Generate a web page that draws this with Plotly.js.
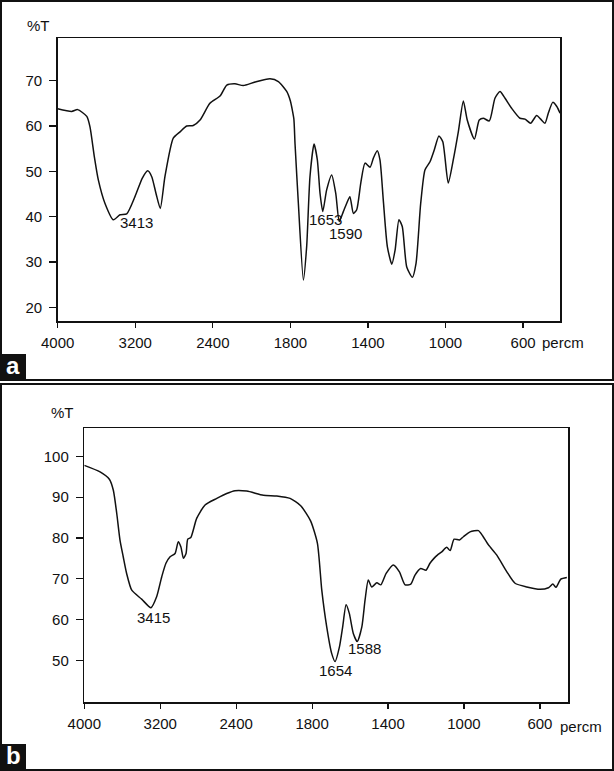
<!DOCTYPE html>
<html>
<head>
<meta charset="utf-8">
<script src="https://cdn.plot.ly/plotly-3.0.1.min.js"></script>
<style>
  html, body { margin: 0; padding: 0; background: #fff; }
  #chart { width: 614px; height: 771px; }
</style>
</head>
<body>
<div id="chart"></div>
<script>
// 스펙트럼 a: 파수(cm-1)와 투과율(%T)
const waveA = [4000, 3856, 3794, 3700, 3667, 3622, 3581, 3512, 3426, 3357, 3288, 3203, 3127, 3072, 3030, 2986, 2942, 2894,
  2808, 2738, 2670, 2602, 2532, 2430, 2326, 2256, 2172, 2086, 1982, 1905, 1862, 1819, 1800, 1790, 1782, 1776, 1759, 1733,
  1716, 1699, 1678, 1661, 1647, 1633, 1613, 1587, 1566, 1548, 1527, 1510, 1493, 1475, 1458, 1437, 1415, 1389, 1372, 1352,
  1338, 1321, 1300, 1277, 1260, 1240, 1223, 1200, 1171, 1152, 1128, 1106, 1080, 1058, 1034, 1014, 986, 960, 934, 908, 888,
  851, 826, 805, 774, 745, 719, 693, 659, 616, 590, 561, 530, 509, 487, 470, 447, 426, 409];
const transA = [63.8, 63.2, 63.6, 62.1, 59.8, 53.2, 48.1, 42.9, 39.3, 40.4, 40.6, 44.4, 48.5, 50.1, 48.8, 45.1, 41.8, 48.8,
  57.3, 58.7, 60.0, 60.1, 61.3, 65.0, 66.6, 69.0, 69.3, 68.9, 69.7, 70.4, 69.8, 67.6, 65.5, 63.5, 61.5, 56.0, 43.0, 26.0,
  33.4, 48.8, 56.0, 52.5, 45.1, 41.1, 45.9, 49.2, 45.1, 38.9, 41.1, 42.9, 44.4, 40.7, 41.5, 47.4, 51.8, 50.9, 52.9, 54.5,
  52.5, 43.7, 33.4, 29.5, 32.6, 39.3, 37.8, 28.9, 26.6, 29.7, 42.9, 50.3, 52.1, 54.7, 57.8, 56.5, 47.4, 52.5, 58.7, 65.5, 61.3,
  57.1, 61.3, 61.7, 61.1, 66.1, 67.6, 66.1, 63.9, 61.7, 61.5, 60.6, 62.3, 61.5, 60.6, 62.8, 65.2, 64.3, 62.8];

// 스펙트럼 b
const waveB = [4000, 3834, 3736, 3694, 3658, 3624, 3590, 3554, 3500, 3396, 3298, 3238, 3184, 3140, 3096, 3044, 3010, 2982,
  2956, 2928, 2910, 2878, 2816, 2728, 2604, 2500, 2412, 2288, 2114, 1986, 1916, 1860, 1808, 1772, 1749, 1723, 1697, 1679,
  1656, 1639, 1621, 1604, 1583, 1562, 1538, 1521, 1504, 1486, 1459, 1438, 1410, 1372, 1340, 1310, 1280, 1258, 1228, 1200,
  1179, 1158, 1140, 1117, 1091, 1073, 1052, 1024, 1003, 968, 924, 901, 871, 827, 774, 731, 669, 599, 555, 532, 515, 490, 458];
const transB = [97.8, 96.2, 94.4, 91.7, 86.0, 79.5, 75.4, 71.3, 67.2, 65.0, 62.9, 65.6, 70.5, 73.8, 75.4, 76.2, 79.1, 77.8,
  75.0, 76.2, 79.7, 80.1, 84.8, 88.1, 89.7, 90.9, 91.6, 91.5, 90.5, 90.3, 89.7, 87.9, 84.2, 78.7, 67.2, 58.2, 51.7, 49.7,
  53.3, 58.2, 63.6, 61.5, 56.6, 54.6, 58.2, 64.8, 69.7, 68.0, 69.0, 68.5, 71.3, 73.4, 71.7, 68.5, 68.7, 70.9, 72.5, 72.1,
  73.8, 75.0, 75.8, 76.6, 77.7, 76.9, 79.7, 79.5, 80.3, 81.5, 81.8, 80.5, 78.3, 75.8, 71.7, 68.9, 68.0, 67.4, 67.8, 68.7, 67.9, 69.9, 70.3];

// 눈금
const tickWave = [4000, 3200, 2400, 1800, 1400, 1000, 600];
const tickTA = [20, 30, 40, 50, 60, 70];
const tickTB = [50, 60, 70, 80, 90, 100];

// 2000 cm-1 위쪽은 절반 배율 (IR 스펙트럼의 축 눈금 변경)
function toU(w) {
  return w > 2000 ? 2000 + (w - 2000) / 2 : w;
}

const font = { family: 'Liberation Sans, Arial, sans-serif', size: 15, color: '#111' };

const lineStyle = { color: '#111', width: 1.5, shape: 'spline', smoothing: 0.6 };
const traceA = {
  x: waveA.map(toU), y: transA, xaxis: 'x', yaxis: 'y',
  type: 'scatter', mode: 'lines', line: lineStyle, hoverinfo: 'skip'
};
const traceB = {
  x: waveB.map(toU), y: transB, xaxis: 'x2', yaxis: 'y2',
  type: 'scatter', mode: 'lines', line: lineStyle, hoverinfo: 'skip'
};

const W = 614, H = 771;
const px = v => v / W;
const py = v => 1 - v / H;

function xAxis(domain, range, anchor) {
  return {
    domain: domain, range: range, anchor: anchor,
    tickvals: tickWave.map(toU), ticktext: tickWave.map(String),
    showline: true, mirror: true, linecolor: '#111', linewidth: 1.5,
    ticks: 'outside', ticklen: 5, tickcolor: '#111', tickwidth: 1.2,
    ticklabelstandoff: 2,
    showgrid: false, zeroline: false, tickfont: font
  };
}
function yAxis(domain, range, vals, anchor) {
  return {
    domain: domain, range: range, anchor: anchor,
    tickvals: vals, ticktext: vals.map(String),
    showline: true, mirror: true, linecolor: '#111', linewidth: 1.5,
    ticks: 'outside', ticklen: 7, tickcolor: '#111', tickwidth: 1.2,
    ticklabelstandoff: 4,
    showgrid: false, zeroline: false, tickfont: font
  };
}

function peak(text, w, t, xref, yref, anchor) {
  return { text: text, x: toU(w), y: t, xref: xref, yref: yref, xanchor: anchor, yanchor: 'middle',
    showarrow: false, font: font };
}
function paperText(text, x, y, anchor, f) {
  return { text: text, x: px(x), y: py(y), xref: 'paper', yref: 'paper', xanchor: anchor, yanchor: 'middle',
    showarrow: false, font: f || font };
}

const letterFont = { family: 'Liberation Sans, Arial, sans-serif', size: 24, color: '#fff', weight: 'bold' };

const layout = {
  width: W, height: H,
  margin: { l: 0, r: 0, t: 0, b: 0 },
  paper_bgcolor: '#fff', plot_bgcolor: '#fff',
  showlegend: false,
  xaxis: xAxis([px(57.7), px(560.3)], [3000, 408], 'y'),
  yaxis: yAxis([py(321.3), py(38)], [16.9, 79.4], tickTA, 'x'),
  xaxis2: xAxis([px(84.3), px(568)], [3000, 452], 'y2'),
  yaxis2: yAxis([py(702.3), py(428.3)], [39.7, 106.9], tickTB, 'x2'),
  annotations: [
    peak('3413', 3378, 38.8, 'x', 'y', 'left'),
    peak('1653', 1713, 39.4, 'x', 'y', 'left'),
    peak('1590', 1610, 36.2, 'x', 'y', 'left'),
    peak('3415', 3466, 60.5, 'x2', 'y2', 'left'),
    peak('1654', 1679, 47.6, 'x2', 'y2', 'center'),
    peak('1588', 1621, 52.9, 'x2', 'y2', 'left'),
    paperText('%T', 25, 26, 'left'),
    paperText('%T', 49, 412, 'left'),
    paperText('percm', 540, 342, 'left'),
    paperText('percm', 558, 726, 'left'),
    paperText('a', 13, 365, 'center', letterFont),
    paperText('b', 13, 755, 'center', letterFont)
  ],
  shapes: [
    { type: 'rect', xref: 'paper', yref: 'paper', x0: px(1), x1: px(613), y0: py(380), y1: py(1),
      line: { color: '#111', width: 2 } },
    { type: 'rect', xref: 'paper', yref: 'paper', x0: px(1), x1: px(613), y0: py(770), y1: py(384),
      line: { color: '#111', width: 2 } },
    { type: 'rect', xref: 'paper', yref: 'paper', x0: 0, x1: px(26), y0: py(380), y1: py(354),
      fillcolor: '#111', line: { width: 0 } },
    { type: 'rect', xref: 'paper', yref: 'paper', x0: 0, x1: px(26), y0: py(771), y1: py(744),
      fillcolor: '#111', line: { width: 0 } }
  ]
};

Plotly.newPlot('chart', [traceA, traceB], layout, { displayModeBar: false, staticPlot: true });
</script>
</body>
</html>
